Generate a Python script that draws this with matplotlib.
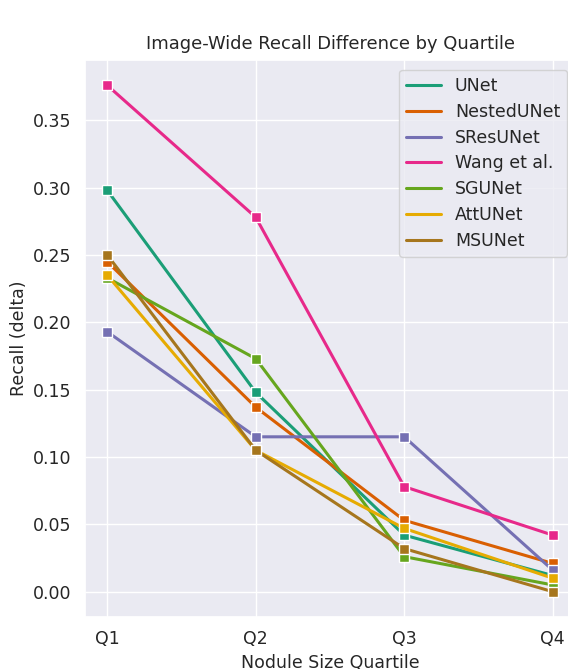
import matplotlib
matplotlib.use('Agg')
import matplotlib.pyplot as plt
import seaborn as sns

quartiles = ['Q1', 'Q2', 'Q3', 'Q4']
models = ['UNet', 'NestedUNet', 'SResUNet', 'Wang et al.', 'SGUNet', 'AttUNet', 'MSUNet']

unet = [0.298, 0.148, 0.042, 0.012]
nested_unet = [0.245, 0.137, 0.053, 0.021]
sres_unet = [0.193, 0.115, 0.115, 0.016]
wang = [0.376, 0.278, 0.078, 0.042]
sg_unet = [0.233, 0.173, 0.026, 0.005]
att_unet = [0.235, 0.105, 0.047, 0.010]
ms_unet = [0.250, 0.105, 0.032, 0.000]

series = [unet, nested_unet, sres_unet, wang, sg_unet, att_unet, ms_unet]

sns.set_theme(style='darkgrid')
colors = sns.color_palette('Dark2', len(models))

fig = plt.figure(figsize=(5.68, 6.69), dpi=100)
ax = fig.add_axes([85 / 568, 1 - 617 / 669, 490 / 568, 557 / 669])

x = list(range(len(quartiles)))
for name, vals, c in zip(models, series, colors):
    ax.plot(x, vals, color=c, linewidth=2.2, marker='s', markersize=7,
            markeredgecolor='white', markeredgewidth=1, label=name)

ax.set_xticks(x)
ax.set_xticklabels(quartiles)
ax.margins(x=0.05, y=0.05)
ax.tick_params(labelsize=12.5)
ax.set_xlabel('Nodule Size Quartile', fontsize=12.5)
ax.set_ylabel('Recall (delta)', fontsize=12.5)
ax.set_title('Image-Wide Recall Difference by Quartile', fontsize=12.9, pad=8)

leg = ax.legend(loc='upper right', fontsize=12.5, bbox_to_anchor=(0.984, 0.982),
                borderaxespad=0, labelspacing=0.45)
for h in leg.legend_handles:
    h.set_marker('')

fig.savefig('out.png', dpi=100)
